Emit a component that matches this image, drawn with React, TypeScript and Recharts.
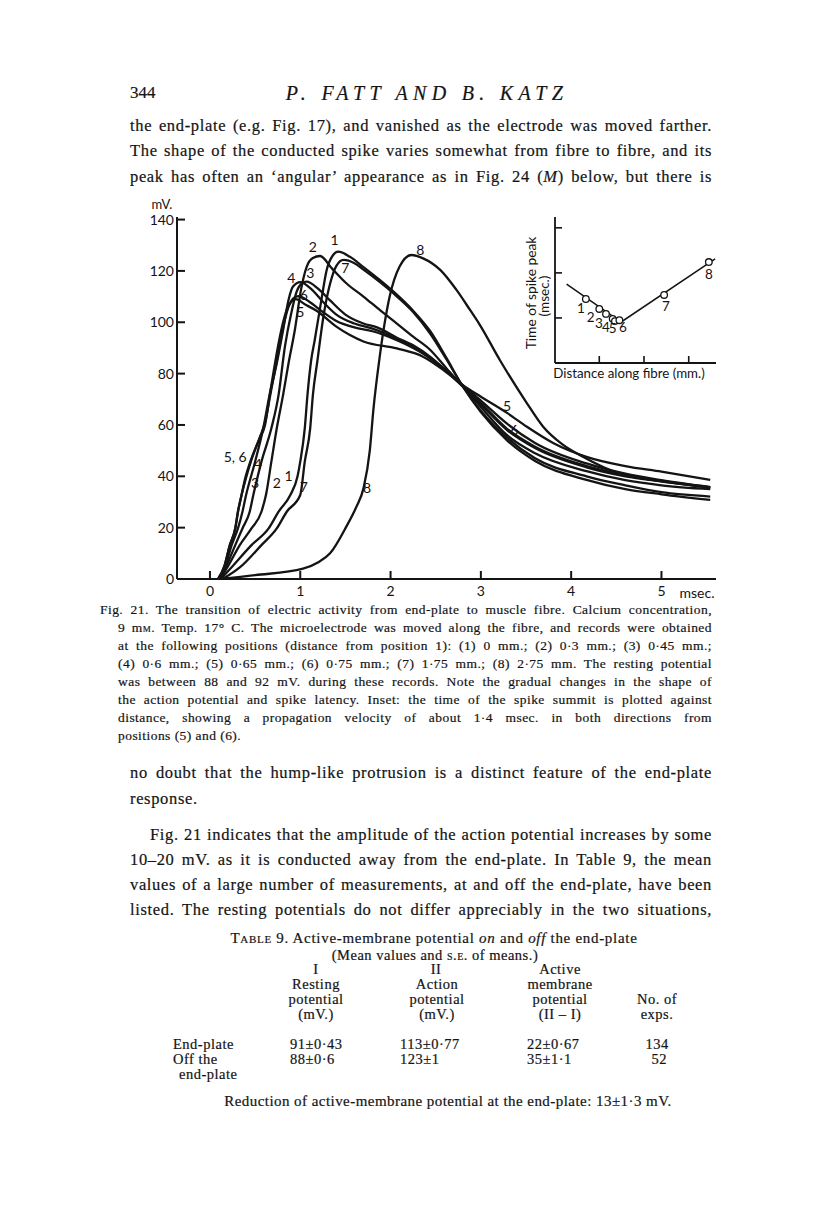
import React from 'react';
import { LineChart, Line, XAxis, YAxis, ReferenceDot, Label } from 'recharts';

// ---------- Main figure: membrane potential (mV) against time (msec) ----------
// each record: [time msec, potential mV]
const record1: [number, number][] = [
  [0.12, 0], [0.25, 5], [0.46, 13.2], [0.65, 19.7], [0.76, 26.2], [0.89, 32.7], [0.97, 40], [1.0, 45.7],
  [1.05, 58.7], [1.08, 71.7], [1.12, 85], [1.16, 93], [1.24, 110], [1.29, 120], [1.36, 126], [1.42, 127.5],
  [1.55, 125.5], [1.7, 121.5], [1.88, 116.5], [2.03, 112], [2.25, 104.5], [2.44, 96.5], [2.62, 86], [2.8, 75],
  [3.0, 65], [3.29, 54], [3.6, 46], [4.17, 38.6], [4.6, 35], [5.0, 33], [5.54, 30.8],
];
const record2: [number, number][] = [
  [0.11, 0], [0.2, 5], [0.33, 13.2], [0.46, 19.7], [0.57, 26.2], [0.62, 32.7], [0.68, 45.7], [0.74, 58.7],
  [0.81, 71.7], [0.87, 84], [0.94, 97], [1.01, 113], [1.07, 121.5], [1.14, 125], [1.22, 125.8], [1.35, 121],
  [1.51, 115.2], [1.7, 110], [1.88, 104.8], [2.07, 99.5], [2.25, 94.4], [2.44, 89.2], [2.62, 82], [2.8, 75],
  [3.0, 67], [3.29, 56], [3.6, 49], [4.17, 42], [4.6, 38.5], [5.0, 36.5], [5.54, 35],
];
const record3: [number, number][] = [
  [0.1, 0], [0.18, 5], [0.28, 13.2], [0.36, 19.7], [0.44, 26.2], [0.48, 32.7], [0.57, 45.7], [0.68, 58.7],
  [0.76, 71.7], [0.83, 90.5], [0.9, 103.5], [0.96, 111.9], [1.02, 115.2], [1.07, 115.8], [1.2, 113],
  [1.33, 108.5], [1.5, 103], [1.7, 99.5], [1.85, 98], [2.07, 94], [2.25, 91], [2.44, 86.5], [2.62, 81],
  [2.8, 75], [3.0, 68], [3.29, 58], [3.6, 51], [4.17, 43.5], [4.6, 40], [5.0, 38], [5.54, 35.6],
];
const record4: [number, number][] = [
  [0.1, 0], [0.17, 5], [0.24, 13.2], [0.31, 19.7], [0.36, 26.2], [0.4, 32.7], [0.5, 45.7], [0.59, 58.7],
  [0.66, 71.7], [0.74, 84], [0.81, 97], [0.87, 108.7], [0.92, 113.9], [1.0, 115.6], [1.12, 113], [1.25, 108],
  [1.4, 103], [1.6, 99.5], [1.8, 97.5], [2.07, 93.5], [2.25, 90.5], [2.44, 86], [2.62, 81], [2.8, 75],
  [3.0, 68.5], [3.29, 58.5], [3.6, 51.5], [4.17, 44], [4.6, 40.5], [5.0, 38], [5.54, 35.6],
];
const record5: [number, number][] = [
  [0.09, 0], [0.16, 5], [0.22, 13.2], [0.28, 19.7], [0.31, 26.2], [0.35, 32.7], [0.39, 39.2], [0.45, 46],
  [0.55, 54.8], [0.61, 60], [0.66, 71], [0.72, 84], [0.79, 97], [0.85, 104.8], [0.9, 108], [0.95, 109],
  [1.05, 107], [1.18, 104.5], [1.4, 98.3], [1.55, 95], [1.7, 92.5], [2.07, 89.8], [2.36, 86.6], [2.6, 81],
  [2.8, 75.5], [3.0, 71], [3.29, 64.7], [3.51, 59.3], [3.8, 53], [4.17, 47.6], [4.6, 44], [5.0, 41.8], [5.54, 38.6],
];
const record6: [number, number][] = [
  [0.09, 0], [0.16, 5], [0.22, 13.2], [0.28, 19.7], [0.31, 26.2], [0.35, 32.7], [0.4, 39.5], [0.46, 46.5],
  [0.55, 55], [0.61, 61], [0.67, 72], [0.74, 85], [0.81, 98], [0.87, 106], [0.93, 109.5], [0.98, 110.2],
  [1.1, 108], [1.25, 104], [1.4, 100.5], [1.6, 98], [1.8, 96.5], [2.07, 93], [2.25, 90], [2.44, 86],
  [2.62, 81], [2.8, 75.5], [3.0, 69.5], [3.29, 60.5], [3.6, 53], [4.17, 45], [4.6, 41], [5.0, 38.5], [5.54, 35.8],
];
const record7: [number, number][] = [
  [0.14, 0], [0.33, 4.5], [0.57, 13.2], [0.74, 19.7], [0.85, 26.2], [1.0, 32.7], [1.05, 45.7], [1.11, 58.7],
  [1.14, 71.7], [1.19, 85], [1.26, 103], [1.33, 115], [1.4, 122], [1.48, 124.3], [1.6, 123], [1.7, 120.5],
  [2.03, 111.3], [2.25, 104], [2.44, 95.5], [2.62, 85.5], [2.8, 75], [3.0, 65.5], [3.29, 55], [3.6, 47],
  [4.17, 40], [4.6, 36.5], [5.0, 33.8], [5.54, 32.1],
];
const record8: [number, number][] = [
  [0.11, 0], [0.5, 1.5], [1.03, 4], [1.2, 6.5], [1.33, 10], [1.51, 20.4], [1.62, 28], [1.7, 35.3],
  [1.77, 50], [1.81, 66], [1.88, 86.6], [1.99, 110], [2.1, 121.7], [2.23, 126.2], [2.36, 124.9],
  [2.55, 120.4], [2.73, 112.6], [2.88, 104.8], [2.99, 98.9], [3.21, 85.3], [3.5, 69], [3.69, 59.3],
  [3.9, 52.5], [4.13, 47.6], [4.54, 41], [5.0, 38.2], [5.54, 35.8],
];
const records = [record1, record2, record3, record4, record5, record6, record7, record8];

const mainXTicks = [0, 1, 2, 3, 4, 5];
const mainYTicks = [0, 20, 40, 60, 80, 100, 120, 140];

// curve annotations (time, mV, text)
const curveLabelTime = [1.38, 1.14, 1.5, 2.33, 0.9, 1.11, 1.04, 1.0, 0.28, 0.53, 0.5, 0.74, 0.87, 1.04, 1.74, 3.29, 3.37];
const curveLabelMv = [132.1, 129.3, 121.2, 128.2, 117.4, 119.3, 110.6, 103.9, 47.6, 44.8, 37.5, 37.3, 40.1, 36, 35.3, 67.4, 58];
const curveLabelText = ['1', '2', '7', '8', '4', '3', '6', '5', '5, 6', '4', '3', '2', '1', '7', '8', '5', '6'];

// ---------- Inset: time of spike peak against distance along fibre ----------
const insetDistance = [0, 0.3, 0.45, 0.6, 0.65, 0.75, 1.75, 2.75];
const insetPeakTime = [1.42, 1.2, 1.09, 0.98, 0.93, 0.95, 1.51, 2.24];
const insetPointText = ['1', '2', '3', '4', '5', '6', '7', '8'];
const insetFitDistance = [-0.43, 0.79, 2.89];
const insetFitTime = [1.75, 0.91, 2.31];
const insetXTicks = [0.3, 1.3, 2.3];
const insetYTicks = [1, 2, 3];
const insetLabelDistance = [-0.11, 0.11, 0.29, 0.45, 0.6, 0.83, 1.79, 2.75];
const insetLabelTime = [1.22, 1.02, 0.89, 0.8, 0.78, 0.8, 1.26, 1.98];

const INK = '#141414';
const SANS = 'Lato, "Open Sans", "DejaVu Sans", sans-serif';
const SERIF = '"Liberation Serif", "DejaVu Serif", serif';
const axisStyle = { stroke: INK, strokeWidth: 2 };

const MainLeftTick = (p: any) => (
  <g>
    <line x1={p.x} x2={p.x + 8} y1={p.y} y2={p.y} stroke={INK} strokeWidth={2} />
    <text x={p.x - 3} y={p.y + 5} textAnchor="end" fontFamily={SANS} fontSize={14} fill={INK}>{p.payload.value}</text>
  </g>
);
const MainBottomTick = (p: any) => (
  <g>
    <line x1={p.x} x2={p.x} y1={p.y} y2={p.y - 8} stroke={INK} strokeWidth={2} />
    <text x={p.x} y={p.y + 17} textAnchor="middle" fontFamily={SANS} fontSize={14} fill={INK}>{p.payload.value}</text>
  </g>
);
const InsetLeftTick = (p: any) => (
  <line x1={p.x} x2={p.x + 7} y1={p.y} y2={p.y} stroke={INK} strokeWidth={1.6} />
);
const InsetBottomTick = (p: any) => (
  <line x1={p.x} x2={p.x} y1={p.y} y2={p.y - 7} stroke={INK} strokeWidth={1.6} />
);

const sc = { fontVariant: 'small-caps' as const };

type LineSpec = { left: number; top: number; width?: number; justify?: boolean; size: number; lh: number; ls: number; content: React.ReactNode };

const TextLine = ({ left, top, width, justify, size, lh, ls, content }: LineSpec) => (
  <div
    style={{
      position: 'absolute', left, top, width, fontSize: size, lineHeight: `${lh}px`, height: lh,
      fontFamily: SERIF, color: INK, letterSpacing: ls, whiteSpace: justify ? 'normal' : 'nowrap',
      textAlign: justify ? 'justify' : 'left', textAlignLast: justify ? 'justify' : 'left',
      WebkitTextStroke: '0.2px #141414',
    }}
  >
    {content}
  </div>
);

const Cell = ({ x, y, text, align = 'center', size = 14.5, ls = 0.5 }: { x: number; y: number; text: React.ReactNode; align?: 'center' | 'left' | 'right'; size?: number; ls?: number }) => {
  const w = 700;
  const left = align === 'center' ? x - w / 2 : align === 'left' ? x : x - w;
  return (
    <div style={{ position: 'absolute', left, top: y - 9, width: w, height: 18, lineHeight: '18px', fontSize: size, letterSpacing: ls, fontFamily: SERIF, color: INK, textAlign: align, whiteSpace: 'nowrap', WebkitTextStroke: '0.2px #141414' }}>
      {text}
    </div>
  );
};

export default function App() {
  const B = { size: 16.5, lh: 24, ls: 0.65 };
  const C = { size: 13.5, lh: 18, ls: 0.45 };
  const bodyTop = (c: number) => c - 13;
  const capTop = (c: number) => c - 10;
  const body: LineSpec[] = [
    { left: 130, top: bodyTop(127), width: 582, justify: true, ...B, content: 'the end-plate (e.g. Fig. 17), and vanished as the electrode was moved farther.' },
    { left: 130, top: bodyTop(152), width: 582, justify: true, ...B, content: 'The shape of the conducted spike varies somewhat from fibre to fibre, and its' },
    { left: 130, top: bodyTop(178), width: 582, justify: true, ...B, content: <>peak has often an ‘angular’ appearance as in Fig. 24 (<i>M</i>) below, but there is</> },
    { left: 100, top: capTop(611), width: 612, justify: true, ...C, content: 'Fig. 21. The transition of electric activity from end-plate to muscle fibre. Calcium concentration,' },
    { left: 118, top: capTop(629), width: 594, justify: true, ...C, content: <>9 m<span style={sc}>m</span>. Temp. 17° C. The microelectrode was moved along the fibre, and records were obtained</> },
    { left: 118, top: capTop(647), width: 594, justify: true, ...C, content: 'at the following positions (distance from position 1): (1) 0 mm.; (2) 0·3 mm.; (3) 0·45 mm.;' },
    { left: 118, top: capTop(665), width: 594, justify: true, ...C, content: '(4) 0·6 mm.; (5) 0·65 mm.; (6) 0·75 mm.; (7) 1·75 mm.; (8) 2·75 mm. The resting potential' },
    { left: 118, top: capTop(683), width: 594, justify: true, ...C, content: 'was between 88 and 92 mV. during these records. Note the gradual changes in the shape of' },
    { left: 118, top: capTop(701), width: 594, justify: true, ...C, content: 'the action potential and spike latency. Inset: the time of the spike summit is plotted against' },
    { left: 118, top: capTop(719), width: 594, justify: true, ...C, content: 'distance, showing a propagation velocity of about 1·4 msec. in both directions from' },
    { left: 118, top: capTop(737), ...C, content: 'positions (5) and (6).' },
    { left: 130, top: bodyTop(774), width: 582, justify: true, ...B, content: 'no doubt that the hump-like protrusion is a distinct feature of the end-plate' },
    { left: 130, top: bodyTop(800), ...B, content: 'response.' },
    { left: 150, top: bodyTop(836), width: 562, justify: true, ...B, content: 'Fig. 21 indicates that the amplitude of the action potential increases by some' },
    { left: 130, top: bodyTop(861), width: 582, justify: true, ...B, content: '10–20 mV. as it is conducted away from the end-plate. In Table 9, the mean' },
    { left: 130, top: bodyTop(886), width: 582, justify: true, ...B, content: 'values of a large number of measurements, at and off the end-plate, have been' },
    { left: 130, top: bodyTop(911), width: 582, justify: true, ...B, content: 'listed. The resting potentials do not differ appreciably in the two situations,' },
  ];

  const fitPoints = insetFitDistance.map((d, i) => ({ d, t: insetFitTime[i] }));
  const peakPoints = insetDistance.map((d, i) => ({ d, t: insetPeakTime[i] }));

  return (
    <div style={{ position: 'absolute', left: 0, top: 0, width: 816, height: 1221, background: '#fff', overflow: 'hidden' }}>
      {/* running head */}
      <div style={{ position: 'absolute', left: 130, top: 80, fontFamily: SERIF, fontSize: 17, lineHeight: '26px', color: INK, WebkitTextStroke: '0.2px #141414' }}>344</div>
      <div style={{ position: 'absolute', left: 177, top: 79, width: 500, textAlign: 'center', fontFamily: SERIF, fontStyle: 'italic', fontSize: 20, letterSpacing: 5.3, lineHeight: '28px', color: INK, WebkitTextStroke: '0.2px #141414' }}>P. FATT AND B. KATZ</div>

      {body.map((l, i) => <TextLine key={i} {...l} />)}

      {/* main chart */}
      <div style={{ position: 'absolute', left: 120, top: 190 }}>
        <LineChart width={620} height={419} margin={{ top: 27, right: 24, bottom: 0, left: 0 }}>
          <XAxis dataKey="t" type="number" domain={[-0.365, 5.604]} ticks={mainXTicks} interval={0} allowDataOverflow
            tickSize={0} tickMargin={0} tickLine={false} axisLine={axisStyle} tick={MainBottomTick} height={30}>
            <Label content={(p: any) => (
              <text x={p.viewBox.x + p.viewBox.width - 19} y={p.viewBox.y + 19} textAnchor="middle" fontFamily={SANS} fontSize={14} fill={INK}>msec.</text>
            )} />
          </XAxis>
          <XAxis xAxisId="top" orientation="top" type="number" domain={[-0.365, 5.604]} allowDataOverflow height={0} tick={false} tickLine={false} axisLine={axisStyle} />
          <YAxis type="number" domain={[0, 141]} ticks={mainYTicks} interval={0} allowDataOverflow
            tickSize={0} tickMargin={0} tickLine={false} axisLine={axisStyle} tick={MainLeftTick} width={57}>
            <Label content={(p: any) => (
              <text x={p.viewBox.x + 42} y={p.viewBox.y - 8} textAnchor="middle" fontFamily={SANS} fontSize={13} fill={INK}>mV.</text>
            )} />
          </YAxis>
          <YAxis yAxisId="right" orientation="right" type="number" domain={[0, 141]} allowDataOverflow width={0} tick={false} tickLine={false} axisLine={axisStyle} />
          {records.map((r, i) => (
            <Line key={i} data={r.map(([t, v]) => ({ t, v }))} dataKey="v" type="monotone" stroke={INK} strokeWidth={2.3}
              dot={false} activeDot={false} isAnimationActive={false} />
          ))}
          {curveLabelText.map((txt, i) => (
            <ReferenceDot key={'l' + i} x={curveLabelTime[i]} y={curveLabelMv[i]} r={0} stroke="none" fill="none"
              label={{ value: txt, position: 'center', fill: INK, fontSize: 14, fontFamily: SANS }} />
          ))}
        </LineChart>
      </div>

      {/* inset */}
      <div style={{ position: 'absolute', left: 500, top: 200 }}>
        <LineChart width={230} height={190} margin={{ top: 17, right: 14, bottom: 0, left: 0 }}>
          <XAxis dataKey="d" type="number" domain={[-0.69, 2.91]} ticks={insetXTicks} interval={0} allowDataOverflow
            tickSize={0} tickMargin={0} tickLine={false} axisLine={{ stroke: INK, strokeWidth: 1.8 }} tick={InsetBottomTick} height={27}>
            <Label content={(p: any) => (
              <text x={p.viewBox.x + 74} y={p.viewBox.y + 15} textAnchor="middle" fontFamily={SANS} fontSize={13.3} fill={INK}>Distance along fibre (mm.)</text>
            )} />
          </XAxis>
          <YAxis type="number" domain={[0, 3.24]} ticks={insetYTicks} interval={0} allowDataOverflow
            tickSize={0} tickMargin={0} tickLine={false} axisLine={{ stroke: INK, strokeWidth: 1.8 }} tick={InsetLeftTick} width={55}>
            <Label content={(p: any) => {
              const cx = p.viewBox.x;
              const cy = p.viewBox.y + 76;
              return (
                <g>
                  <text x={cx + 30} y={cy} transform={`rotate(-90 ${cx + 30} ${cy})`} textAnchor="middle" dominantBaseline="central" fontFamily={SANS} fontSize={13.8} fill={INK}>Time of spike peak</text>
                  <text x={cx + 44} y={cy + 3} transform={`rotate(-90 ${cx + 44} ${cy + 3})`} textAnchor="middle" dominantBaseline="central" fontFamily={SANS} fontSize={13.5} fill={INK}>(msec.)</text>
                </g>
              );
            }} />
          </YAxis>
          <Line data={fitPoints} dataKey="t" type="linear" stroke={INK} strokeWidth={1.5} dot={false} activeDot={false} isAnimationActive={false} />
          <Line data={peakPoints} dataKey="t" type="linear" stroke="none" strokeWidth={0} activeDot={false} isAnimationActive={false}
            dot={{ r: 3.3, fill: '#fff', stroke: INK, strokeWidth: 1.3 }} />
          {insetPointText.map((txt, i) => (
            <ReferenceDot key={'i' + i} x={insetLabelDistance[i]} y={insetLabelTime[i]} r={0} stroke="none" fill="none"
              label={{ value: txt, position: 'center', fill: INK, fontSize: 13.5, fontFamily: SANS }} />
          ))}
        </LineChart>
      </div>

      {/* table 9 */}
      <Cell x={434} y={938} size={15} ls={0.7} text={<><span style={sc}>Table</span> 9. Active-membrane potential <i>on</i> and <i>off</i> the end-plate</>} />
      <Cell x={435} y={955} text={<>(Mean values and <span style={sc}>s.e.</span> of means.)</>} />
      <Cell x={316} y={969} text="I" />
      <Cell x={436} y={969} text="II" />
      <Cell x={560} y={969} text="Active" />
      <Cell x={316} y={984} text="Resting" />
      <Cell x={437} y={984} text="Action" />
      <Cell x={560} y={984} text="membrane" />
      <Cell x={316} y={999} text="potential" />
      <Cell x={437} y={999} text="potential" />
      <Cell x={560} y={999} text="potential" />
      <Cell x={657} y={999} text="No. of" />
      <Cell x={316} y={1014} text="(mV.)" />
      <Cell x={437} y={1014} text="(mV.)" />
      <Cell x={560} y={1014} text="(II – I)" />
      <Cell x={657} y={1014} text="exps." />
      <Cell x={173} y={1044} align="left" text="End-plate" />
      <Cell x={290} y={1044} align="left" text="91±0·43" />
      <Cell x={400} y={1044} align="left" text="113±0·77" />
      <Cell x={527} y={1044} align="left" text="22±0·67" />
      <Cell x={657} y={1044} text="134" />
      <Cell x={173} y={1059} align="left" text="Off the" />
      <Cell x={290} y={1059} align="left" text="88±0·6" />
      <Cell x={400} y={1059} align="left" text="123±1" />
      <Cell x={527} y={1059} align="left" text="35±1·1" />
      <Cell x={667} y={1059} align="right" text="52" />
      <Cell x={179} y={1074} align="left" text="end-plate" />
      <Cell x={448} y={1101} size={15} ls={0.45} text="Reduction of active-membrane potential at the end-plate: 13±1·3 mV." />
    </div>
  );
}
